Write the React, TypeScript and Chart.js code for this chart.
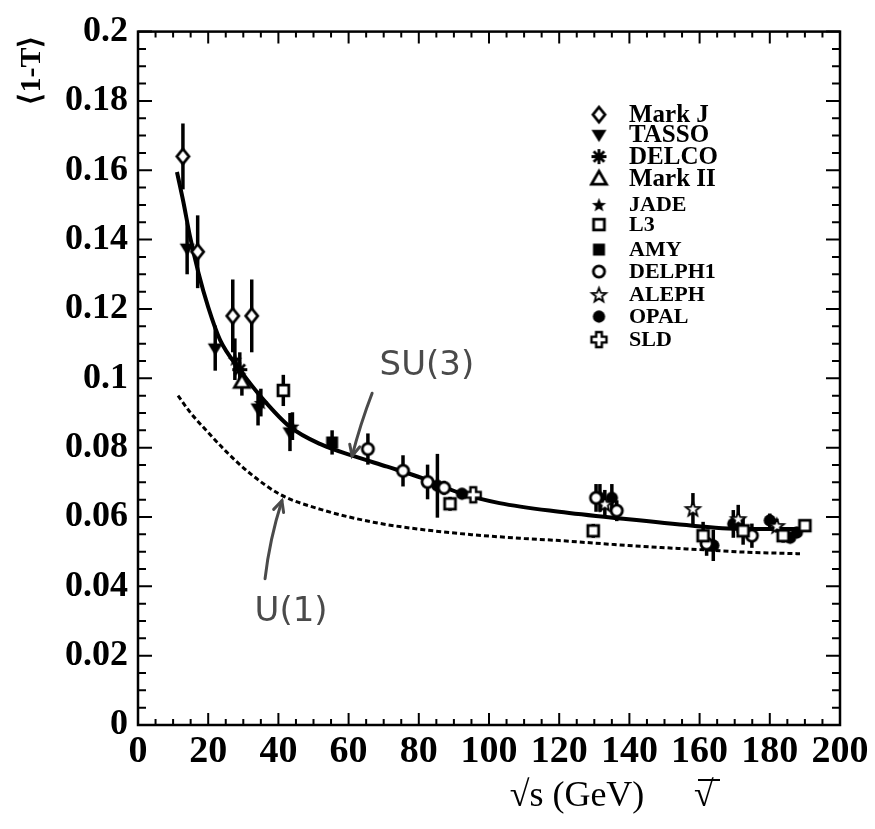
import React, { useEffect, useRef } from 'react';
import { Chart, registerables } from 'chart.js';
Chart.register(...registerables);

// each point: [sqrt(s) in GeV, <1-T>, error]
const markJ = [[12.8, 0.164, 0.0095], [17, 0.1365, 0.0105], [27, 0.118, 0.0105], [32.4, 0.118, 0.0105]];
const tasso = [[14, 0.1375, 0.0075], [22, 0.1087, 0.0065], [34.2, 0.0914, 0.005], [43.3, 0.0845, 0.0055]];
const delco = [[29, 0.1025, 0.005]];
const markII = [[29.6, 0.099, 0.004]];
const jade = [[27.6, 0.1055, 0.006], [35, 0.093, 0.004], [44, 0.0862, 0.004]];
const l3 = [[41.4, 0.0965, 0.0045], [88.9, 0.0638, 0.002], [129.7, 0.056, 0.002], [161, 0.0546, 0.004], [172.4, 0.056, 0.004], [183.8, 0.0546, 0.002], [190, 0.0575, 0.0015]];
const amy = [[55.3, 0.0815, 0.0035]];
const delphi = [[65.5, 0.0796, 0.0045], [75.5, 0.0733, 0.0045], [82.5, 0.0701, 0.005], [87.2, 0.0684, 0.002], [130.5, 0.0655, 0.004], [136.4, 0.0618, 0.003], [162, 0.0523, 0.0035], [174.9, 0.0546, 0.0035]];
const aleph = [[133, 0.0638, 0.004], [158.1, 0.0624, 0.0045], [171, 0.0595, 0.004], [182, 0.0575, 0.002]];
const opal = [[85.3, 0.069, 0.0092], [92.3, 0.0667, 0.001], [131.6, 0.0655, 0.004], [135, 0.0655, 0.004], [163.9, 0.0518, 0.0045], [169.6, 0.058, 0.004], [180, 0.059, 0.002], [185.8, 0.054, 0.0015], [187.7, 0.0555, 0.0015]];
const sld = [[95.5, 0.0664, 0.0015]];

// QCD SU(3) curve (solid)
const su3X = [11.1, 12.9, 14.8, 17.2, 20, 23.4, 29, 35.6, 43.3, 52, 61.3, 71, 81, 92, 103, 120, 139, 158, 168, 177, 188];
const su3Y = [0.1595, 0.151, 0.141, 0.1305, 0.1205, 0.111, 0.1025, 0.094, 0.086, 0.081, 0.0776, 0.0745, 0.0712, 0.0668, 0.064, 0.0615, 0.0594, 0.0575, 0.0567, 0.0565, 0.0565];
// abelian U(1) curve (dashed)
const u1X = [11.4, 15, 19.6, 25, 32, 40.5, 52, 67, 80, 95, 110, 120, 135, 149, 160, 172, 188.6];
const u1Y = [0.095, 0.09, 0.0848, 0.079, 0.0725, 0.0665, 0.0622, 0.0585, 0.0565, 0.0549, 0.0538, 0.0532, 0.0521, 0.0512, 0.0506, 0.0499, 0.0494];

const xTicks = [0, 20, 40, 60, 80, 100, 120, 140, 160, 180, 200];
const legendNames = ['Mark J', 'TASSO', 'DELCO', 'Mark II', 'JADE', 'L3', 'AMY', 'DELPH1', 'ALEPH', 'OPAL', 'SLD'];

const SERIF = '"Liberation Serif", "Times New Roman", serif';

function makeMarker(kind: string, r = 7.5): HTMLCanvasElement {
  const s = Math.ceil(r * 2 + 6);
  const c = document.createElement('canvas');
  c.width = s; c.height = s;
  const g = c.getContext('2d')!;
  const m = s / 2;
  g.lineWidth = 2.8; g.strokeStyle = '#000'; g.fillStyle = '#000';
  g.lineJoin = 'miter';
  const poly = (pts: number[][]) => { g.beginPath(); pts.forEach((p, i) => i ? g.lineTo(m + p[0], m + p[1]) : g.moveTo(m + p[0], m + p[1])); g.closePath(); };
  const star = () => {
    const pts: number[][] = [];
    for (let i = 0; i < 10; i++) {
      const a = -Math.PI / 2 + i * Math.PI / 5;
      const rr = i % 2 ? r * 0.42 : r;
      pts.push([rr * Math.cos(a), rr * Math.sin(a) + 0.8]);
    }
    poly(pts);
  };
  const openFill = () => { g.fillStyle = '#fff'; g.fill(); g.stroke(); };
  switch (kind) {
    case 'diamondOpen': poly([[0, -r], [r * 0.8, 0], [0, r], [-r * 0.8, 0]]); openFill(); break;
    case 'triDown': poly([[-r, -r * 0.65], [r, -r * 0.65], [0, r]]); g.fill(); break;
    case 'asterisk': {
      g.beginPath();
      for (let i = 0; i < 4; i++) { const a = i * Math.PI / 4; g.moveTo(m - r * Math.cos(a), m - r * Math.sin(a)); g.lineTo(m + r * Math.cos(a), m + r * Math.sin(a)); }
      g.stroke(); break;
    }
    case 'triOpen': poly([[0, -r], [r, r * 0.75], [-r, r * 0.75]]); openFill(); break;
    case 'starFilled': star(); g.fill(); break;
    case 'squareOpen': poly([[-r * 0.72, -r * 0.72], [r * 0.72, -r * 0.72], [r * 0.72, r * 0.72], [-r * 0.72, r * 0.72]]); openFill(); break;
    case 'squareFilled': poly([[-r * 0.8, -r * 0.8], [r * 0.8, -r * 0.8], [r * 0.8, r * 0.8], [-r * 0.8, r * 0.8]]); g.fill(); break;
    case 'circleOpen': g.beginPath(); g.arc(m, m, r * 0.75, 0, Math.PI * 2); openFill(); break;
    case 'starOpen': g.lineWidth = 1.8; star(); openFill(); break;
    case 'circleFilled': g.beginPath(); g.arc(m, m, r * 0.82, 0, Math.PI * 2); g.fill(); break;
    case 'crossOpen': {
      const w = r * 0.38;
      g.lineWidth = 2.4;
      poly([[-w, -r], [w, -r], [w, -w], [r, -w], [r, w], [w, w], [w, r], [-w, r], [-w, w], [-r, w], [-r, -w], [-w, -w]]);
      openFill(); break;
    }
  }
  return c;
}

export default function App() {
  const ref = useRef<HTMLCanvasElement>(null);
  useEffect(() => {
    const canvas = ref.current!;
    const exps = [
      { data: markJ, kind: 'diamondOpen' },
      { data: tasso, kind: 'triDown' },
      { data: delco, kind: 'asterisk' },
      { data: markII, kind: 'triOpen' },
      { data: jade, kind: 'starFilled' },
      { data: l3, kind: 'squareOpen' },
      { data: amy, kind: 'squareFilled' },
      { data: delphi, kind: 'circleOpen' },
      { data: aleph, kind: 'starOpen' },
      { data: opal, kind: 'circleFilled' },
      { data: sld, kind: 'crossOpen' },
    ];
    const markers = exps.map(e => makeMarker(e.kind));

    const datasets: any[] = exps.map((e, i) => ({
      label: legendNames[i],
      data: e.data.map(p => ({ x: p[0], y: p[1] })),
      pointStyle: markers[i],
      pointRadius: 7,
      showLine: false,
      order: 0,
    }));
    datasets.push({
      label: 'SU(3)',
      data: su3X.map((x, i) => ({ x, y: su3Y[i] })),
      showLine: true, borderColor: '#000', borderWidth: 4, pointRadius: 0,
      cubicInterpolationMode: 'monotone', order: 5,
    });
    datasets.push({
      label: 'U(1)',
      data: u1X.map((x, i) => ({ x, y: u1Y[i] })),
      showLine: true, borderColor: '#000', borderWidth: 3, borderDash: [5, 3], pointRadius: 0,
      cubicInterpolationMode: 'monotone', order: 6,
    });

    const errorBars = {
      id: 'errorBars',
      beforeDatasetsDraw(chart: any) {
        const ctx = chart.ctx; const xs = chart.scales.x; const ys = chart.scales.y;
        ctx.save(); ctx.strokeStyle = '#000'; ctx.lineWidth = 3.5;
        exps.forEach(e => e.data.forEach(p => {
          const px = xs.getPixelForValue(p[0]);
          ctx.beginPath();
          ctx.moveTo(px, ys.getPixelForValue(p[1] - p[2]));
          ctx.lineTo(px, ys.getPixelForValue(p[1] + p[2]));
          ctx.stroke();
        }));
        ctx.restore();
      },
    };

    const decor = {
      id: 'decor',
      afterDraw(chart: any) {
        const ctx = chart.ctx; const xs = chart.scales.x; const ys = chart.scales.y;
        const { left, right, top, bottom } = chart.chartArea;
        ctx.save();
        // frame
        ctx.strokeStyle = '#000'; ctx.lineWidth = 2.5;
        ctx.strokeRect(left, top, right - left, bottom - top);
        ctx.lineWidth = 2;
        ctx.beginPath();
        for (let v = 0; v <= 200; v += 5) {
          const px = xs.getPixelForValue(v);
          const len = v % 20 === 0 ? 12 : 6;
          ctx.moveTo(px, bottom); ctx.lineTo(px, bottom - len);
          ctx.moveTo(px, top); ctx.lineTo(px, top + len);
        }
        for (let k = 0; k <= 40; k++) {
          const py = ys.getPixelForValue(k * 0.005);
          const len = k % 4 === 0 ? 14 : 8;
          ctx.moveTo(left, py); ctx.lineTo(left + len, py);
          ctx.moveTo(right, py); ctx.lineTo(right - len, py);
        }
        ctx.stroke();

        // legend
        const rows = [0, 20, 42, 64, 90, 110, 135, 157, 180, 202, 225];
        const lx = left + 461, tx = left + 491, ly = top + 83;
        ctx.fillStyle = '#000'; ctx.textBaseline = 'middle'; ctx.textAlign = 'left';
        legendNames.forEach((name, i) => {
          const y = ly + rows[i];
          const mk = markers[i];
          ctx.drawImage(mk, lx - mk.width / 2, y - mk.height / 2);
          ctx.font = (i < 4 ? 'bold 25px ' : 'bold 22px ') + SERIF;
          ctx.fillText(name, tx, y + 1);
        });

        // axis titles
        ctx.save();
        ctx.translate(32, 70); ctx.rotate(-Math.PI / 2);
        ctx.font = 'bold 30px ' + SERIF; ctx.textAlign = 'center'; ctx.textBaseline = 'middle';
        ctx.fillText('\u27E81-T\u27E9', 0, 0);
        ctx.restore();
        ctx.font = '36px ' + SERIF; ctx.textAlign = 'center'; ctx.textBaseline = 'middle';
        ctx.fillText('\u221As (GeV)', 577, 797);
        ctx.fillText('\u221A', 704, 797);
        ctx.lineWidth = 2;
        ctx.beginPath(); ctx.moveTo(698, 780); ctx.lineTo(720, 780); ctx.stroke();

        // hand-written annotations
        ctx.fillStyle = '#4a4a4a'; ctx.strokeStyle = '#4a4a4a';
        ctx.font = '34px "DejaVu Sans", sans-serif';
        ctx.fillText('SU(3)', xs.getPixelForValue(82.3), ys.getPixelForValue(0.1034));
        ctx.fillText('U(1)', xs.getPixelForValue(43.6), ys.getPixelForValue(0.0325));
        const arrow = (x0: number, y0: number, x1: number, y1: number, bend: number) => {
          const p0x = xs.getPixelForValue(x0), p0y = ys.getPixelForValue(y0);
          const p1x = xs.getPixelForValue(x1), p1y = ys.getPixelForValue(y1);
          const mx = (p0x + p1x) / 2 + bend, my = (p0y + p1y) / 2;
          ctx.lineWidth = 3; ctx.lineCap = 'round';
          ctx.beginPath(); ctx.moveTo(p0x, p0y); ctx.quadraticCurveTo(mx, my, p1x, p1y); ctx.stroke();
          const a = Math.atan2(p1y - my, p1x - mx);
          ctx.beginPath();
          ctx.moveTo(p1x - 12 * Math.cos(a - 0.45), p1y - 12 * Math.sin(a - 0.45));
          ctx.lineTo(p1x, p1y);
          ctx.lineTo(p1x - 12 * Math.cos(a + 0.45), p1y - 12 * Math.sin(a + 0.45));
          ctx.stroke();
        };
        arrow(66.7, 0.0957, 61, 0.0776, -2);
        arrow(36.2, 0.0422, 41, 0.0647, -4);
        ctx.restore();
      },
    };

    const chart = new Chart(canvas, {
      type: 'scatter',
      data: { datasets },
      options: {
        animation: false,
        responsive: false,
        layout: { padding: { top: 29, right: 35, left: 0, bottom: 0 } },
        plugins: { legend: { display: false }, tooltip: { enabled: false } },
        scales: {
          x: {
            type: 'linear', min: 0, max: 200,
            grid: { display: false, drawTicks: false },
            border: { display: false },
            afterFit: (s: any) => { s.height = 829 - 725; },
            afterBuildTicks: (s: any) => { s.ticks = xTicks.map(v => ({ value: v })); },
            ticks: { color: '#000', padding: 4, maxRotation: 0, autoSkip: false, font: { family: SERIF, size: 38, weight: 'bold' } },
          },
          y: {
            type: 'linear', min: 0, max: 0.2,
            grid: { display: false, drawTicks: false },
            border: { display: false },
            afterFit: (s: any) => { s.width = 138; },
            ticks: {
              color: '#000', padding: 10, stepSize: 0.02, autoSkip: false,
              font: { family: SERIF, size: 36, weight: 'bold' },
              callback: (v: any) => String(Number(Number(v).toFixed(3))),
            },
          },
        },
      } as any,
      plugins: [errorBars, decor],
    });
    return () => chart.destroy();
  }, []);
  return (
    <div style={{ position: 'absolute', left: 0, top: 0, width: 875, height: 829, background: '#fff' }}>
      <canvas ref={ref} width={875} height={829} style={{ display: 'block' }} />
    </div>
  );
}
